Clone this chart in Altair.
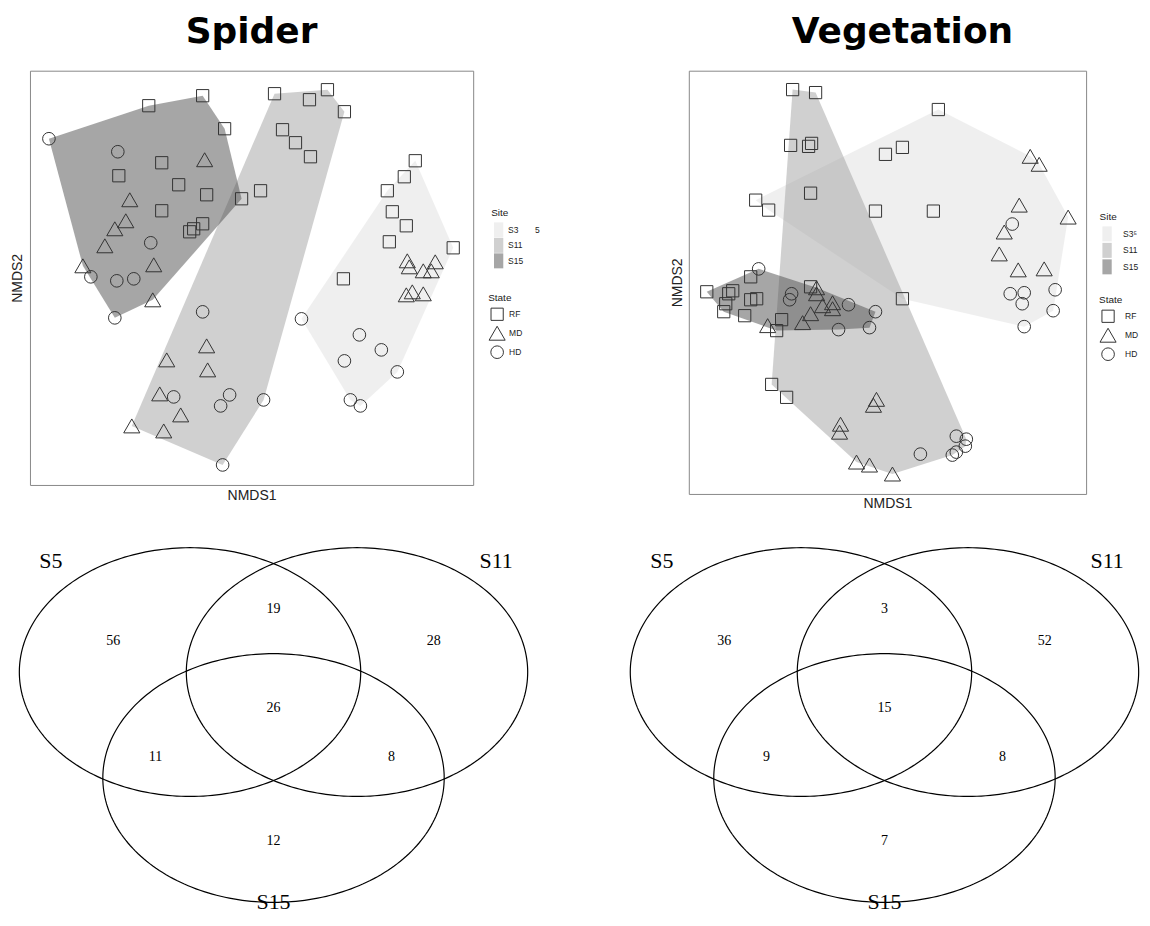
import altair as alt
import numpy as np
import pandas as pd

SITES = ["S3", "S11", "S15"]
STATES = ["RF", "MD", "HD"]
SITE_COLORS = ["#dfdfdf", "#a1a1a1", "#4d4d4d"]
SHAPES = ["square", "triangle-up", "circle"]
SIZES = [150, 260, 160]

# ---------------- Spider NMDS scores ----------------
sp_rf_x = [-1.03, -0.49, -0.27, -0.90, -1.33, -0.73, -0.45, -0.10, -0.90, -0.49, -0.58, -0.62,
           0.09, 0.23, 0.58, 0.76, 0.93, 0.31, 0.44, 0.59,
           1.64, 1.53, 1.36, 1.41, 1.55, 1.38, 2.02, 0.92]
sp_rf_y = [1.72, 1.82, 1.49, 1.15, 1.02, 0.93, 0.83, 0.79, 0.67, 0.54, 0.49, 0.46,
           0.87, 1.84, 1.78, 1.88, 1.66, 1.48, 1.35, 1.21,
           1.17, 1.01, 0.87, 0.66, 0.52, 0.36, 0.30, -0.01]
sp_rf_site = ["S15"] * 12 + ["S11"] * 8 + ["S3"] * 8

sp_md_x = [-0.47, -1.22, -1.26, -1.37, -1.47, -1.69, -0.98, -0.99,
           -0.45, -0.44, -0.85, -0.92, -0.71, -0.88, -1.20,
           1.56, 1.58, 1.84, 1.72, 1.80, 1.55, 1.61, 1.72]
sp_md_y = [1.18, 0.78, 0.57, 0.49, 0.32, 0.12, 0.13, -0.22,
           -0.68, -0.92, -0.82, -1.16, -1.37, -1.53, -1.48,
           0.17, 0.11, 0.16, 0.07, 0.07, -0.17, -0.14, -0.16]
sp_md_site = ["S15"] * 8 + ["S11"] * 7 + ["S3"] * 8

sp_hd_x = [-2.03, -1.34, -1.01, -1.61, -1.35, -1.18, -1.37,
           -0.49, -0.78, -0.22, -0.31, 0.12, -0.29,
           0.50, 1.08, 1.30, 0.93, 1.46, 0.99, 1.09]
sp_hd_y = [1.39, 1.26, 0.35, 0.01, -0.03, -0.01, -0.40,
           -0.34, -1.19, -1.17, -1.28, -1.22, -1.87,
           -0.41, -0.57, -0.72, -0.83, -0.94, -1.22, -1.28]
sp_hd_site = ["S15"] * 7 + ["S11"] * 6 + ["S3"] * 7

# ---------------- Vegetation NMDS scores ----------------
vg_rf_x = [-0.95, -0.72, -0.97, -0.79, -0.76, -0.77, -1.16, -1.01,
           0.51, -0.02, 0.15, -1.32, -1.19, -0.12, 0.46, 0.15,
           -1.37, -1.81, -1.55, -1.59, -1.62, -1.64, -1.37, -1.31, -1.43, -0.77, -1.06, -1.11]
vg_rf_y = [1.94, 1.91, 1.38, 1.37, 1.40, 0.90, -1.02, -1.15,
           1.74, 1.29, 1.36, 0.83, 0.73, 0.72, 0.72, -0.16,
           0.06, -0.09, -0.08, -0.11, -0.21, -0.29, -0.17, -0.16, -0.33, -0.04, -0.37, -0.48]
vg_rf_site = ["S11"] * 8 + ["S3"] * 8 + ["S15"] * 12

vg_md_x = [1.43, 1.52, 1.32, 1.81, 1.17, 1.12, 1.31, 1.57,
           -0.71, -0.71, -0.65, -0.55, -0.55, -0.77, -0.85, -1.20,
           -0.11, -0.14, -0.47, -0.48, -0.31, -0.18, 0.05]
vg_md_y = [1.27, 1.19, 0.78, 0.66, 0.51, 0.29, 0.13, 0.14,
           -0.05, -0.11, -0.23, -0.20, -0.26, -0.31, -0.40, -0.43,
           -1.17, -1.23, -1.42, -1.50, -1.80, -1.83, -1.92]
vg_md_site = ["S3"] * 8 + ["S15"] * 8 + ["S11"] * 7

vg_hd_x = [1.25, 1.23, 1.37, 1.35, 1.68, 1.66, 1.37,
           -1.29, -0.96, -0.98, -0.39, -0.12, -0.49, -0.18,
           0.33, 0.69, 0.79, 0.78, 0.69, 0.65]
vg_hd_y = [0.59, -0.11, -0.10, -0.21, -0.07, -0.28, -0.44,
           0.14, -0.11, -0.17, -0.22, -0.29, -0.47, -0.45,
           -1.72, -1.54, -1.57, -1.64, -1.70, -1.73]
vg_hd_site = ["S3"] * 7 + ["S15"] * 7 + ["S11"] * 6

# ---------------- Venn diagrams ----------------
venn_sets = ["S5", "S11", "S15"]
venn_cx = [-0.495, 0.495, 0.0]
venn_cy = [0.314, 0.314, -0.314]
venn_rx = 1.012
venn_ry = 0.737
venn_label_x = [-1.32, 1.32, 0.0]
venn_label_y = [0.97, 0.97, -1.05]
region_x = [-0.95, 0.0, 0.95, 0.0, -0.70, 0.70, 0.0]
region_y = [0.50, 0.69, 0.50, 0.10, -0.19, -0.19, -0.69]
spider_counts = [56, 19, 28, 26, 11, 8, 12]
veg_counts = [36, 3, 52, 15, 9, 8, 7]


def make_points(groups):
    rows = []
    for state, xs, ys, sites in groups:
        for x, y, s in zip(xs, ys, sites):
            rows.append({"NMDS1": x, "NMDS2": y, "State": state, "Site": s})
    return pd.DataFrame(rows)


def convex_hull(points):
    pts = sorted(set(points))
    if len(pts) <= 2:
        return pts

    def cross(o, a, b):
        return (a[0] - o[0]) * (b[1] - o[1]) - (a[1] - o[1]) * (b[0] - o[0])

    lower = []
    for p in pts:
        while len(lower) >= 2 and cross(lower[-2], lower[-1], p) <= 0:
            lower.pop()
        lower.append(p)
    upper = []
    for p in reversed(pts):
        while len(upper) >= 2 and cross(upper[-2], upper[-1], p) <= 0:
            upper.pop()
        upper.append(p)
    return lower[:-1] + upper[:-1]


def hull_frame(df):
    rows = []
    for site in SITES:
        sub = df[df.Site == site]
        h = convex_hull(list(zip(sub.NMDS1, sub.NMDS2)))
        for i, (x, y) in enumerate(h):
            rows.append({"Site": site, "idx": i, "NMDS1": x, "NMDS2": y})
    return pd.DataFrame(rows)


def nmds_panel(df, title, w, h, xdom, ydom, title_dx, site_pos, state_pos,
               site_lo, state_lo, site_rowpad, s3_label, xtp, ytp):
    hull = hull_frame(df)
    axis_common = dict(labels=False, ticks=False, domain=False, grid=False,
                       titleFont="Liberation Sans", titleFontSize=14,
                       titleFontWeight="normal", titleColor="#222")
    x = alt.X("NMDS1:Q", scale=alt.Scale(domain=xdom, nice=False, zero=False),
              axis=alt.Axis(title="NMDS1", titlePadding=xtp, **axis_common))
    y = alt.Y("NMDS2:Q", scale=alt.Scale(domain=ydom, nice=False, zero=False),
              axis=alt.Axis(title="NMDS2", titlePadding=ytp, **axis_common))
    leg_common = dict(orient="none", padding=0, titleFont="Liberation Sans",
                      titleFontSize=10, titleFontWeight="normal", titleColor="#222",
                      labelFont="Liberation Sans", labelFontSize=8.5, labelColor="#222")
    site_leg = alt.Legend(title="Site", legendX=site_pos[0], legendY=site_pos[1],
                          symbolType="M-0.62,-1H0.62V1H-0.62Z", symbolSize=225,
                          symbolOpacity=0.5, symbolStrokeWidth=0, rowPadding=site_rowpad,
                          labelOffset=site_lo, titlePadding=4,
                          labelExpr="datum.label == 'S3' ? '" + s3_label + "' : datum.label",
                          **leg_common)
    state_leg = alt.Legend(title="State", legendX=state_pos[0], legendY=state_pos[1],
                           symbolStrokeColor="#333", symbolStrokeWidth=1, rowPadding=1,
                           labelOffset=state_lo, titlePadding=4, **leg_common)
    polys = alt.Chart(hull).mark_line(fillOpacity=0.5, strokeWidth=0, clip=True).encode(
        x=x, y=y, order="idx:Q",
        fill=alt.Fill("Site:N", scale=alt.Scale(domain=SITES, range=SITE_COLORS),
                      legend=site_leg))
    pts = alt.Chart(df).mark_point(filled=False, color="#333", strokeWidth=1, opacity=1).encode(
        x=x, y=y,
        shape=alt.Shape("State:N", scale=alt.Scale(domain=STATES, range=SHAPES),
                        legend=state_leg),
        size=alt.Size("State:N", scale=alt.Scale(type="ordinal", domain=STATES, range=SIZES),
                      legend=state_leg))
    return alt.layer(polys, pts).properties(
        width=w, height=h,
        title=alt.TitleParams(text=title, frame="group", anchor="middle", font="DejaVu Sans",
                              fontSize=36, fontWeight="bold", color="black",
                              baseline="alphabetic", offset=-8, dx=title_dx))


def venn_panel(counts, w, h, xdom, ydom):
    t = np.linspace(0, 2 * np.pi, 241)
    ell_rows = []
    for s, cx, cy in zip(venn_sets, venn_cx, venn_cy):
        for i, tt in enumerate(t):
            ell_rows.append({"set": s, "i": i,
                             "vx": cx + venn_rx * np.cos(tt),
                             "vy": cy + venn_ry * np.sin(tt)})
    ell_df = pd.DataFrame(ell_rows)
    lab_df = pd.DataFrame({"set": venn_sets, "vx": venn_label_x, "vy": venn_label_y})
    num_df = pd.DataFrame({"n": [str(c) for c in counts], "vx": region_x, "vy": region_y})
    xs = alt.X("vx:Q", scale=alt.Scale(domain=xdom, nice=False, zero=False), axis=None)
    ys = alt.Y("vy:Q", scale=alt.Scale(domain=ydom, nice=False, zero=False), axis=None)
    ell = alt.Chart(ell_df).mark_line(color="black", strokeWidth=1.2).encode(
        x=xs, y=ys, order="i:Q", detail="set:N")
    labels = alt.Chart(lab_df).mark_text(font="Liberation Serif", fontSize=22, color="black",
                                         baseline="middle").encode(x=xs, y=ys, text="set:N")
    nums = alt.Chart(num_df).mark_text(font="Liberation Serif", fontSize=14, color="black",
                                       baseline="middle").encode(x=xs, y=ys, text="n:N")
    return alt.layer(ell, labels, nums).properties(
        width=w, height=h, view=alt.ViewBackground(stroke="transparent"))


sp_df = make_points([("RF", sp_rf_x, sp_rf_y, sp_rf_site),
                     ("MD", sp_md_x, sp_md_y, sp_md_site),
                     ("HD", sp_hd_x, sp_hd_y, sp_hd_site)])
vg_df = make_points([("RF", vg_rf_x, vg_rf_y, vg_rf_site),
                     ("MD", vg_md_x, vg_md_y, vg_md_site),
                     ("HD", vg_hd_x, vg_hd_y, vg_hd_site)])

NB = "\u00a0"
sp_nmds = nmds_panel(sp_df, "Spider", 444, 415, [-2.22, 2.22], [-2.07, 2.07], 0,
                     (462, 138), (459, 223), 2, 3, 0.5, "S3" + NB * 7 + "5", 4, 5)
vg_nmds = nmds_panel(vg_df, "Vegetation", 398, 424, [-1.99, 1.99], [-2.12, 2.13], 15,
                     (411.5, 142), (411, 225), 8.5, 8, 1.5, "S3\u2075", 3, 4)

sp_venn = venn_panel(spider_counts, 503, 359, [-1.444, 1.533], [-1.056, 1.068])
vg_venn = venn_panel(veg_counts, 451, 359, [-1.160, 1.509], [-1.056, 1.068])

chart = alt.concat(
    sp_nmds, vg_nmds, sp_venn, vg_venn,
    columns=2, spacing={"row": 51, "column": 157}, bounds="flush", align="each"
).resolve_scale(
    fill="independent", shape="independent", size="independent"
).resolve_legend(
    fill="independent", shape="independent", size="independent"
).properties(
    padding={"left": 2, "top": 4, "right": 0, "bottom": 0}
).configure_view(stroke="#888", strokeWidth=1)

chart.save("out.html", embed_options={"renderer": "svg", "actions": False})
